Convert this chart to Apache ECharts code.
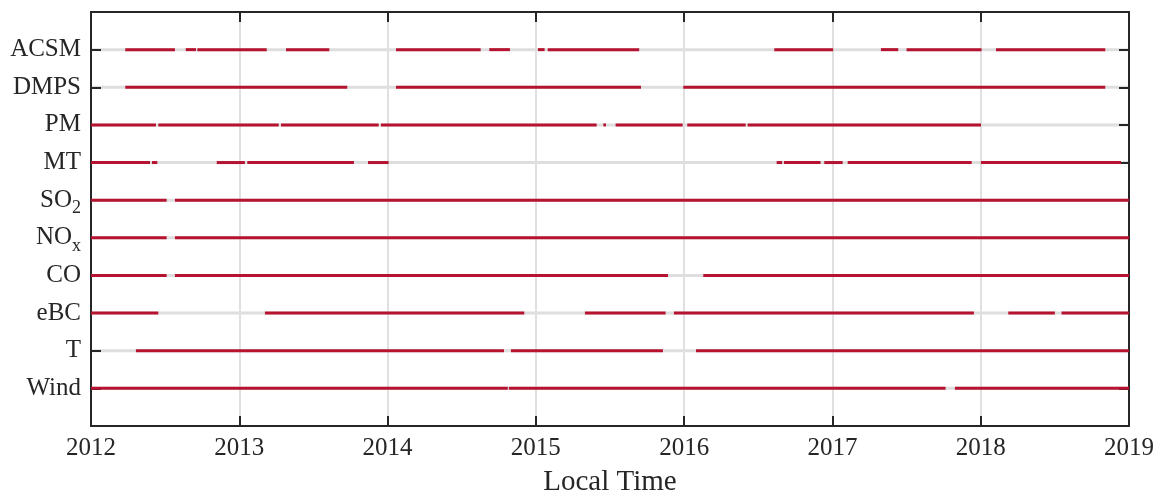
<!DOCTYPE html>
<html>
<head>
<meta charset="utf-8">
<script src="https://cdn.jsdelivr.net/npm/echarts@6/dist/echarts.min.js"></script>
<style>
  html, body { margin: 0; padding: 0; background: #ffffff; }
  #chart { width: 1156px; height: 490px; }
</style>
</head>
<body>
<div id="chart"></div>
<script>
// Instrument rows, top to bottom (labels use rich-text subscripts)
const rowLabels = ['ACSM', 'DMPS', 'PM', 'MT', 'SO{s|2}', 'NO{s|x}', 'CO', 'eBC', 'T', 'Wind'];
const yearTicks = [2012, 2013, 2014, 2015, 2016, 2017, 2018, 2019];

// Periods with valid data, as [start, end] in decimal years
const acsm = [[2012.231, 2012.566], [2012.639, 2012.708], [2012.717, 2013.185], [2013.315, 2013.607],
              [2014.057, 2014.628], [2014.686, 2014.825], [2015.014, 2015.059], [2015.080, 2015.697],
              [2016.608, 2017.005], [2017.327, 2017.444], [2017.500, 2018.006], [2018.103, 2018.840]];
const dmps = [[2012.231, 2013.728], [2014.057, 2015.709], [2015.994, 2018.840]];
const pm   = [[2012.000, 2012.438], [2012.454, 2013.266], [2013.281, 2013.940], [2013.955, 2015.410],
              [2015.455, 2015.473], [2015.538, 2015.990], [2016.021, 2016.415], [2016.428, 2018.002]];
const mt   = [[2012.000, 2012.398], [2012.411, 2012.447], [2012.848, 2013.038], [2013.054, 2013.773],
              [2013.868, 2014.007], [2016.624, 2016.661], [2016.673, 2016.920], [2016.945, 2017.069],
              [2017.103, 2017.939], [2018.001, 2018.946]];
const so2  = [[2012.000, 2012.510], [2012.566, 2019.000]];
const nox  = [[2012.000, 2012.510], [2012.566, 2019.000]];
const co   = [[2012.000, 2012.510], [2012.566, 2015.891], [2016.129, 2019.000]];
const ebc  = [[2012.000, 2012.454], [2013.173, 2014.922], [2015.331, 2015.875], [2015.931, 2017.954],
              [2018.186, 2018.500], [2018.545, 2019.000]];
const temp = [[2012.303, 2014.785], [2014.832, 2015.857], [2016.080, 2019.000]];
const wind = [[2012.000, 2014.811], [2014.818, 2017.763], [2017.826, 2019.000]];

const rowPeriods = [acsm, dmps, pm, mt, so2, nox, co, ebc, temp, wind];

const RED = '#b5132f';
const GRAY = '#dedede';
const INK = '#262626';
const FONT = '"Liberation Serif", "DejaVu Serif", serif';

// Build [start, end, row] items; row 1 is the top row
const coverage = [];
rowPeriods.forEach((periods, i) => {
  periods.forEach(p => coverage.push([p[0], p[1], i + 1]));
});
const background = rowLabels.map((_, i) => [yearTicks[0], yearTicks[yearTicks.length - 1], i + 1]);

function segment(lineColor) {
  return function (params, api) {
    const a = api.coord([api.value(0), api.value(2)]);
    const b = api.coord([api.value(1), api.value(2)]);
    return {
      type: 'line',
      shape: { x1: a[0], y1: a[1], x2: b[0], y2: b[1] },
      style: { stroke: lineColor, lineWidth: 3, lineCap: 'butt' }
    };
  };
}

const yAxisBase = {
  type: 'value',
  inverse: true,
  min: 0,
  max: rowLabels.length + 1,
  interval: 1,
  z: 1,
  axisLine: { show: true, onZero: false, lineStyle: { color: INK, width: 2 } },
  axisTick: { show: true, inside: true, length: 10, lineStyle: { color: INK, width: 2 } },
  splitLine: { show: false }
};
const xAxisBase = {
  type: 'value',
  min: yearTicks[0],
  max: yearTicks[yearTicks.length - 1],
  interval: 1,
  z: 1,
  axisLine: { show: true, onZero: false, lineStyle: { color: INK, width: 2 } },
  axisTick: { show: true, inside: true, length: 10, lineStyle: { color: INK, width: 2 } }
};

const chart = echarts.init(document.getElementById('chart'), null, { renderer: 'canvas' });
chart.setOption({
  animation: false,
  backgroundColor: '#ffffff',
  grid: { left: 91, right: 27, top: 12, bottom: 64, containLabel: false, outerBoundsMode: 'none' },
  xAxis: [
    Object.assign({}, xAxisBase, {
      position: 'bottom',
      name: 'Local Time',
      nameLocation: 'middle',
      nameGap: 42,
      nameTextStyle: { fontFamily: FONT, fontSize: 29, color: INK },
      axisLabel: {
        show: true, margin: 10, fontFamily: FONT, fontSize: 25, color: INK,
        formatter: v => String(Math.round(v))
      },
      splitLine: { show: true, lineStyle: { color: '#e0e0e0', width: 2 } }
    }),
    Object.assign({}, xAxisBase, {
      position: 'top',
      axisLabel: { show: false },
      splitLine: { show: false }
    })
  ],
  yAxis: [
    Object.assign({}, yAxisBase, {
      position: 'left',
      axisLabel: {
        show: true, margin: 10, fontFamily: FONT, fontSize: 25, color: INK, lineHeight: 32,
        formatter: v => (v >= 1 && v <= rowLabels.length) ? rowLabels[v - 1] : '',
        rich: {
          s: { fontFamily: FONT, fontSize: 18, color: INK, lineHeight: 34, verticalAlign: 'bottom' }
        }
      }
    }),
    Object.assign({}, yAxisBase, {
      position: 'right',
      axisLabel: { show: false }
    })
  ],
  series: [
    {
      type: 'custom',
      name: 'background',
      z: 0,
      silent: true,
      renderItem: segment(GRAY),
      data: background,
      encode: { x: [0, 1], y: 2 }
    },
    {
      type: 'custom',
      name: 'coverage',
      z: 3,
      silent: true,
      renderItem: segment(RED),
      data: coverage,
      encode: { x: [0, 1], y: 2 }
    }
  ]
});
</script>
</body>
</html>
